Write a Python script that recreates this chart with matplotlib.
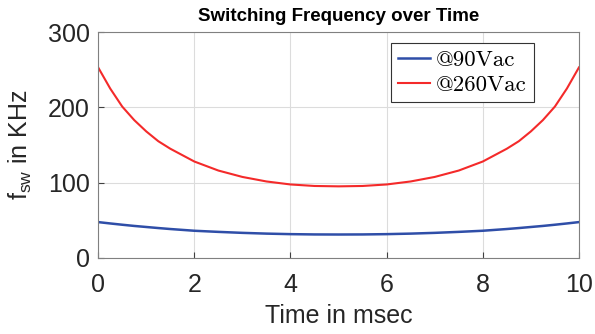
import matplotlib
matplotlib.use("Agg")
import matplotlib.pyplot as plt

# values (time in msec, frequency in KHz)
time_ms = [0, 0.25, 0.5, 0.75, 1, 1.25, 1.5, 2, 2.5, 3, 3.5, 4, 4.5, 5,
           5.5, 6, 6.5, 7, 7.5, 8, 8.5, 8.75, 9, 9.25, 9.5, 9.75, 10]
f_90vac = [47.5, 45.7, 44, 42.4, 41, 39.6, 38.3, 36, 34.5, 33.2, 32.2, 31.5, 31.1, 31,
           31.1, 31.5, 32.2, 33.2, 34.5, 36, 38.3, 39.6, 41, 42.4, 44, 45.7, 47.5]
f_260vac = [253, 225, 201, 183, 168, 155, 145, 128, 116, 107.5, 101.5, 97.5, 95.5, 95,
            95.5, 97.5, 101.5, 107.5, 116, 128, 145, 155, 168, 183, 201, 225, 253]

plt.rcParams['mathtext.fontset'] = 'custom'
plt.rcParams['mathtext.rm'] = 'Liberation Sans'
plt.rcParams['mathtext.it'] = 'Liberation Sans'

fig = plt.figure(figsize=(5.95, 3.34), dpi=100)
ax = fig.add_axes([0.165, 0.228, 0.808, 0.676])

ax.plot(time_ms, f_90vac, color='#2f4ea8', lw=1.8, label='@90Vac')
ax.plot(time_ms, f_260vac, color='#f42a2a', lw=1.5, label='@260Vac')

ax.set_xlim(0, 10)
ax.set_ylim(0, 300)
ax.set_xticks([0, 2, 4, 6, 8, 10])
ax.set_yticks([0, 100, 200, 300])
ax.grid(True, color='#dcdcdc', lw=0.8)
ax.set_axisbelow(True)
for s in ax.spines.values():
    s.set_color('#808080')
ax.tick_params(direction='in', length=4, color='#404040', labelsize=18,
               labelcolor='#262626')
ax.tick_params(axis='x', pad=11)
ax.tick_params(axis='y', pad=6)
for lbl in ax.get_xticklabels() + ax.get_yticklabels():
    lbl.set_family('Liberation Sans')

ax.set_title('Switching Frequency over Time', fontsize=13.5, fontweight='bold',
             family='Liberation Sans', pad=8)
ax.set_xlabel('Time in msec', fontsize=18, family='Liberation Sans', color='#262626', labelpad=5)
ax.set_ylabel(r'f$_{\rm sw}$ in KHz', fontsize=18, family='Liberation Sans', color='#262626', labelpad=10)

leg = ax.legend(loc='upper right', bbox_to_anchor=(0.906, 0.951), fancybox=False,
                prop={'family': ['cmr10', 'DejaVu Serif'], 'size': 16.5},
                handlelength=1.4, handletextpad=0.25, borderpad=0.3, labelspacing=0.2,
                borderaxespad=0)
leg.get_frame().set_edgecolor('#333333')
leg.get_frame().set_linewidth(0.8)
leg.get_frame().set_alpha(1)

fig.savefig('out.png', dpi=100)
